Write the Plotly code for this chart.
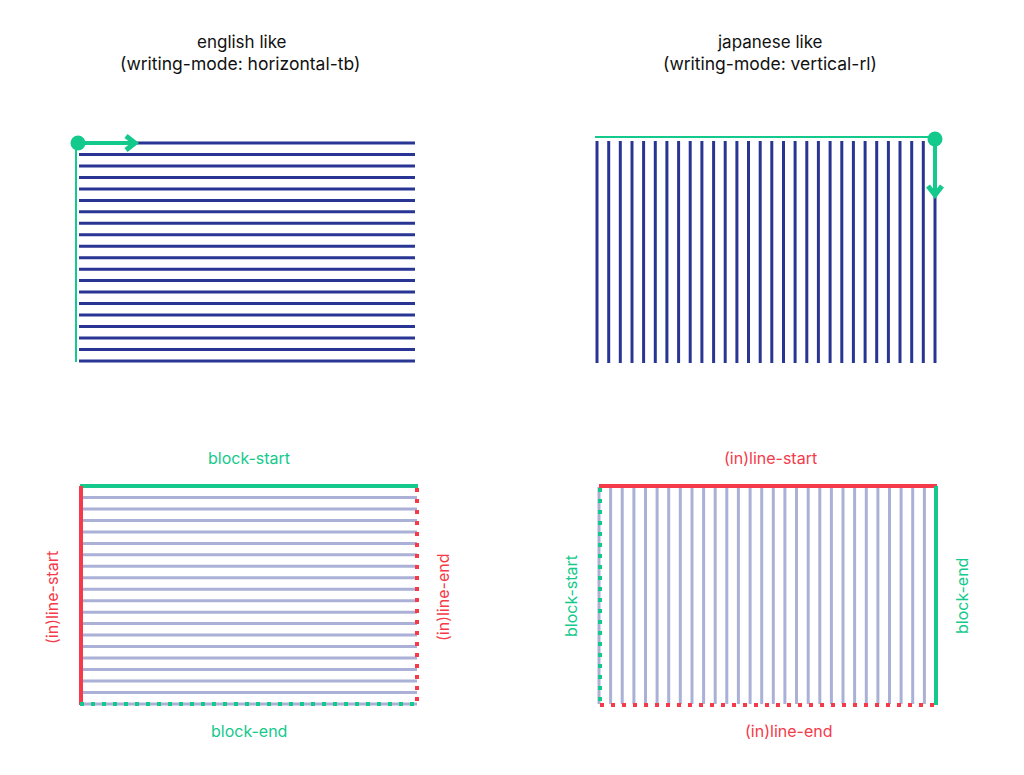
import plotly.graph_objects as go

# ---- data (pixel-space diagram coordinates) ----
NAVY = "#283593"
GREEN = "#14c98c"
RED = "#f53a4a"
LAV = "#aab0d6"

# top-left: horizontal text lines (english like)
tl_rows = [143, 154.5, 165.9, 177.4, 188.9, 200.4, 211.8, 223.3, 234.8, 246.2,
           257.7, 269.2, 280.6, 292.1, 303.6, 315.1, 326.5, 338, 349.5, 361]
tl_x = [79, 415]
tl_first_start = 136

# top-right: vertical text lines (japanese like)
tr_cols = [597, 608.7, 620.3, 632, 643.6, 655.3, 666.9, 678.6, 690.2, 701.9,
           713.6, 725.2, 736.9, 748.5, 760.2, 771.8, 783.5, 795.1, 806.8, 818.4,
           830.1, 841.8, 853.4, 865.1, 876.7, 888.4, 900, 911.7, 923.3, 935]
tr_y = [141, 363]

# bottom-left: lavender rows
bl_rows = [486, 497.5, 508.9, 520.4, 531.9, 543.4, 554.8, 566.3, 577.8, 589.2,
           600.7, 612.2, 623.6, 635.1, 646.6, 658.1, 669.5, 681, 692.5, 704]
bl_x = [82, 417]
bl_box = [81, 417, 486, 704]  # left, right, top, bottom

# bottom-right: lavender columns
br_cols = [599, 610.6, 622.2, 633.9, 645.5, 657.1, 668.7, 680.3, 692, 703.6,
           715.2, 726.8, 738.4, 750.1, 761.7, 773.3, 784.9, 796.5, 808.2, 819.8,
           831.4, 843, 854.6, 866.3, 877.9, 889.5, 901.1, 912.7, 924.4, 936]
br_y = [487, 704]
br_box = [600, 936, 486, 705]

# arrows
tl_dot = (78, 143)
tl_shaft = ([78, 133], [143, 143])
tl_head = ([126, 135, 126], [136, 143, 150])
tl_guide = ([76, 76], [143, 362])

tr_dot = (935, 139)
tr_shaft = ([935, 935], [139, 193])
tr_head = ([928, 935, 942], [186, 195, 186])
tr_guide = ([595, 935], [137, 137])

FONT = "Inter, Lato, sans-serif"

texts = [
    # text, x, y, color, angle, size
    ("english like", 242, 42, "#111111", 0, 17),
    ("(writing-mode: horizontal-tb)", 240, 63, "#111111", 0, 17.5),
    ("japanese like", 770, 42, "#111111", 0, 17),
    ("(writing-mode: vertical-rl)", 770, 63, "#111111", 0, 17.5),
    ("block-start", 249, 458, GREEN, 0, 16),
    ("block-end", 249, 731, GREEN, 0, 16),
    ("(in)line-start", 52, 598, RED, -90, 16),
    ("(in)line-end", 443, 598, RED, -90, 16),
    ("(in)line-start", 770, 458, RED, 0, 16),
    ("(in)line-end", 788, 731, RED, 0, 16),
    ("block-start", 571, 596, GREEN, -90, 16),
    ("block-end", 962, 596, GREEN, -90, 16),
]


def hlines(rows, x0, x1, first_x0=None):
    xs, ys = [], []
    for i, r in enumerate(rows):
        s = first_x0 if (i == 0 and first_x0 is not None) else x0
        xs += [s, x1, None]
        ys += [r, r, None]
    return xs, ys


def vlines(cols, y0, y1):
    xs, ys = [], []
    for c in cols:
        xs += [c, c, None]
        ys += [y0, y1, None]
    return xs, ys


fig = go.Figure()


def line(xs, ys, color, width, dash="solid"):
    fig.add_trace(go.Scatter(x=xs, y=ys, mode="lines",
                             line=dict(color=color, width=width, dash=dash),
                             hoverinfo="skip", showlegend=False))


# top-left
xs, ys = hlines(tl_rows, tl_x[0], tl_x[1], tl_first_start)
line(xs, ys, NAVY, 3)
line(*tl_guide, GREEN, 2)
line(*tl_shaft, GREEN, 4)
line(*tl_head, GREEN, 5)
fig.add_trace(go.Scatter(x=[tl_dot[0]], y=[tl_dot[1]], mode="markers",
                         marker=dict(color=GREEN, size=15, line=dict(width=0)),
                         hoverinfo="skip", showlegend=False))

# top-right
xs, ys = vlines(tr_cols, tr_y[0], tr_y[1])
line(xs, ys, NAVY, 3)
line(*tr_guide, GREEN, 2)
line(*tr_shaft, GREEN, 4)
line(*tr_head, GREEN, 5)
fig.add_trace(go.Scatter(x=[tr_dot[0]], y=[tr_dot[1]], mode="markers",
                         marker=dict(color=GREEN, size=15, line=dict(width=0)),
                         hoverinfo="skip", showlegend=False))

# bottom-left
xs, ys = hlines(bl_rows, bl_x[0], bl_x[1])
line(xs, ys, LAV, 3)
L, R, T, B = bl_box
line([L - 1, R + 1], [T, T], GREEN, 4)
line([L, L], [T, B + 1], RED, 4)
line([R, R], [T + 2, B], RED, 4, "4px,7px")
line([L - 1, R + 1], [B, B], GREEN, 4, "4px,7px")

# bottom-right
xs, ys = vlines(br_cols, br_y[0], br_y[1])
line(xs, ys, LAV, 3)
L, R, T, B = br_box
line([L - 1, R + 1], [T, T], RED, 4)
line([R, R], [T, B], GREEN, 4)
line([L, L], [T + 2, B], GREEN, 4, "4px,7px")
line([L, R], [B, B], RED, 4, "4px,7px")

for t, x, y, c, a, s in texts:
    fig.add_annotation(x=x, y=y, xref="x", yref="y", text=t, showarrow=False,
                       textangle=a, font=dict(family=FONT, size=s, color=c),
                       xanchor="center", yanchor="middle")

# The page body has an 8px margin; the plot area starts at page pixel 8,
# so the axes cover page pixels 8..1024 and 8..775.
fig.update_layout(
    width=1016, height=767,
    margin=dict(l=0, r=0, t=0, b=0),
    paper_bgcolor="white", plot_bgcolor="white",
    xaxis=dict(range=[8, 1024], visible=False, fixedrange=True),
    yaxis=dict(range=[775, 8], visible=False, fixedrange=True),
)

fig.write_html("out.html")
